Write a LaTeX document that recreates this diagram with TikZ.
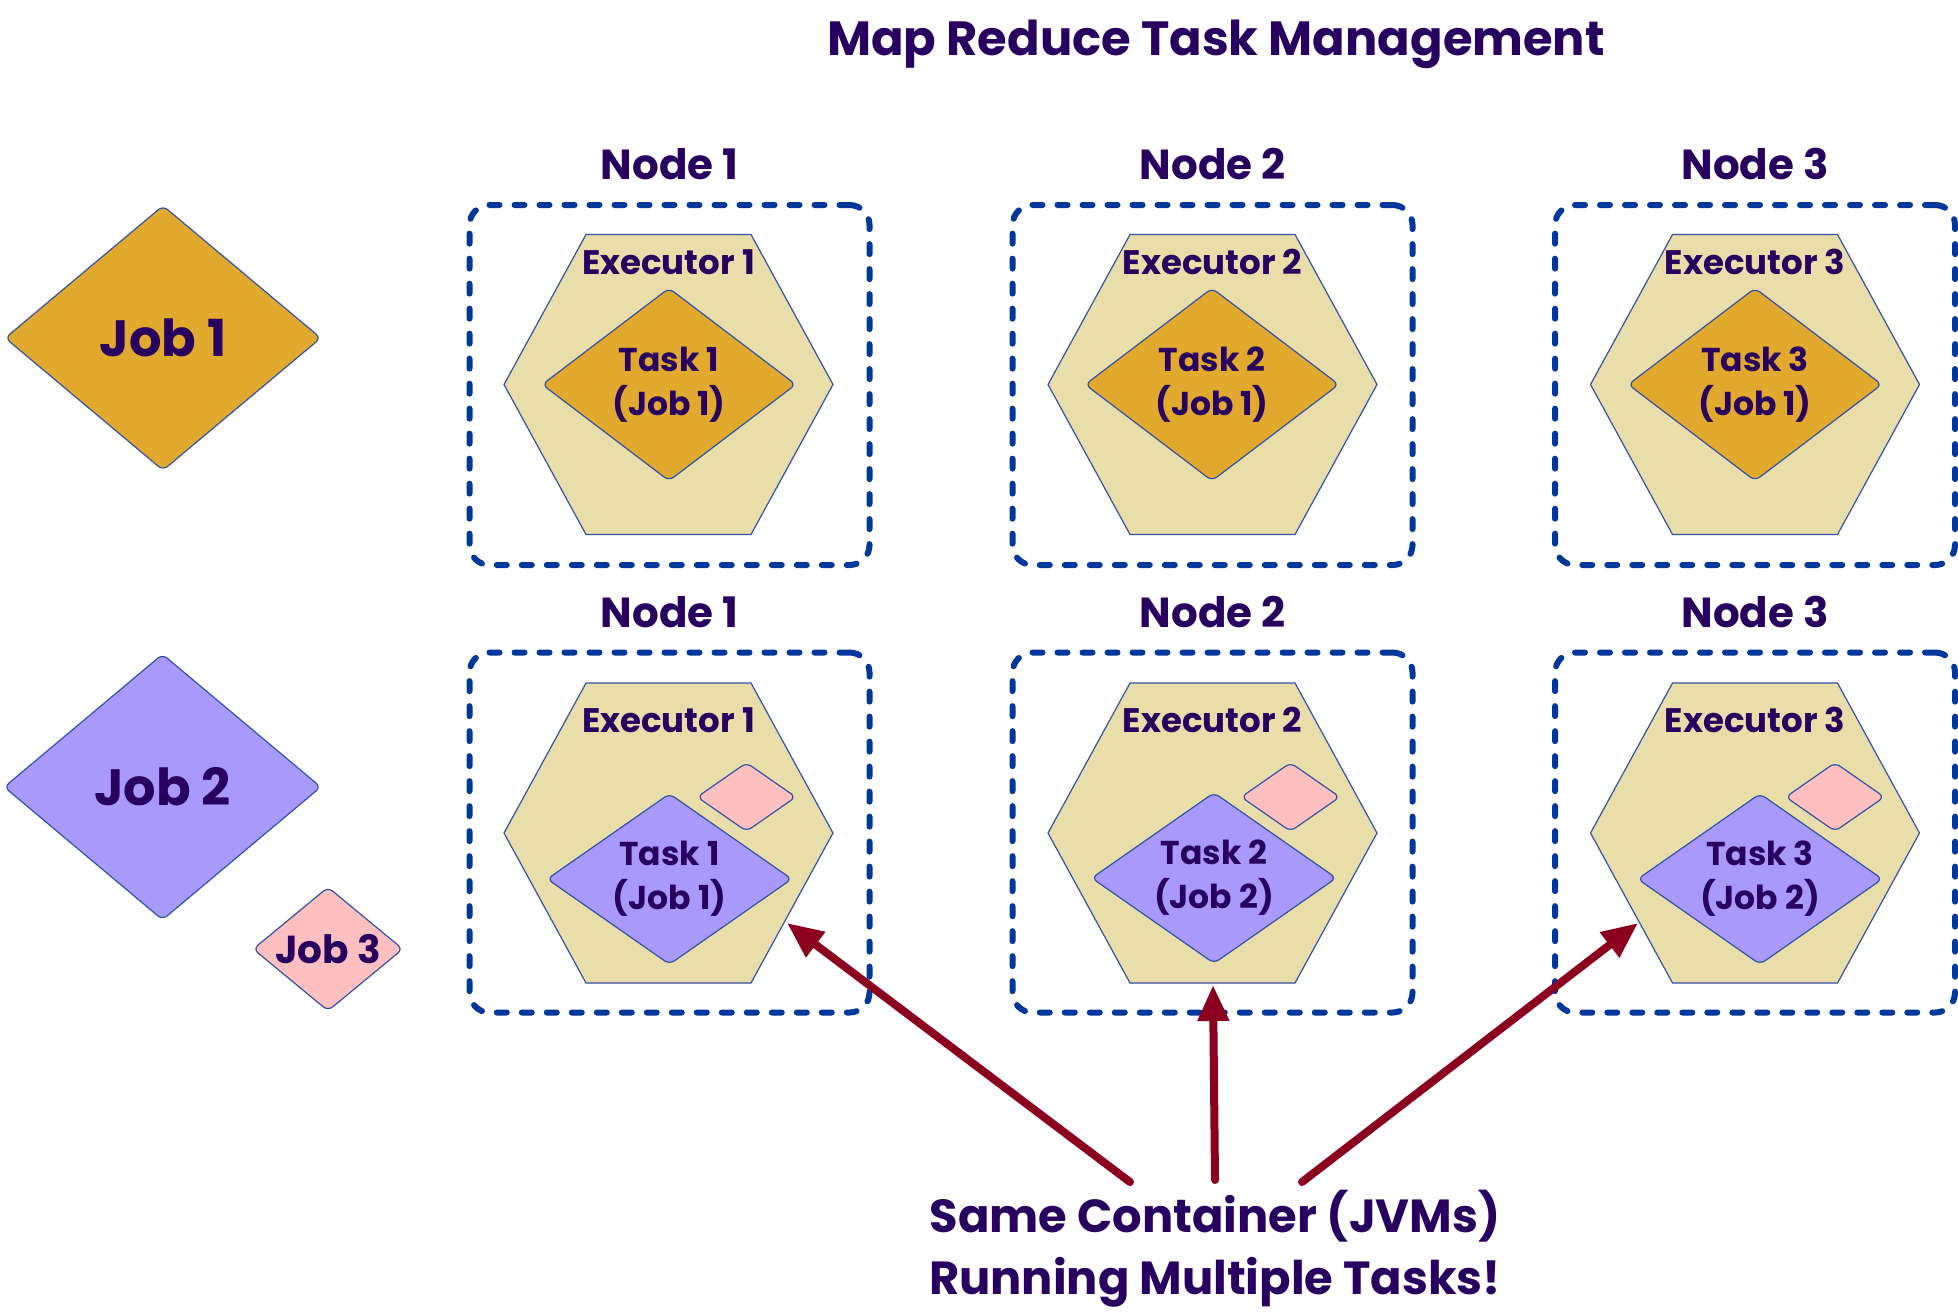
\documentclass[tikz,border=0pt]{standalone}
\usepackage{fontspec}
\setmainfont{Poppins}
\usetikzlibrary{arrows.meta,shapes.geometric}
\definecolor{inkpurple}{HTML}{270060}
\definecolor{boxblue}{HTML}{00379A}
\definecolor{hexfill}{HTML}{E9DDA9}
\definecolor{edgeblue}{HTML}{3352A6}
\definecolor{jobgold}{HTML}{E2A92F}
\definecolor{joblilac}{HTML}{A999FA}
\definecolor{jobpink}{HTML}{FDBFBF}
\definecolor{arrowred}{HTML}{8B001F}
\tikzset{
  labeltext/.style={text=inkpurple, align=center, inner sep=0pt},
  nodebox/.style={draw=boxblue, line width=3pt, dash pattern=on 5pt off 7.5pt, line cap=round, rounded corners=10pt, minimum width=200pt, minimum height=180pt},
  hexagon/.style={draw=edgeblue, fill=hexfill, line width=0.6pt},
  jobdiamond/.style={diamond, draw=edgeblue, line width=0.6pt, rounded corners=3pt, inner sep=-14pt, text=inkpurple, align=center},
  bigfont/.style={font=\fontsize{25.5}{30}\selectfont\bfseries},
  nodefont/.style={font=\fontsize{21}{24}\selectfont\bfseries},
  execfont/.style={font=\fontsize{17}{22}\selectfont\bfseries},
  taskfont/.style={font=\fontsize{16.5}{22}\selectfont\bfseries},
  pointer/.style={-{Triangle[length=18pt,width=15pt]}, line width=4pt, line cap=round, draw=arrowred}
}
% executor hexagon around a named centre
\newcommand{\exechex}[3]{%
  \coordinate (#1) at (#2,#3);
  \draw[hexagon] (#2,#3) ++(-164.5,0) -- ++(82,-150) -- ++(165,0) -- ++(82,150) -- ++(-82,150) -- ++(-165,0) -- cycle;
}
\begin{document}
\begin{tikzpicture}[x=0.5pt, y=-0.5pt]
    \useasboundingbox (0,0) rectangle (1958,1314);
    \node[labeltext, font=\fontsize{24}{30}\selectfont\bfseries] (title) at (1216,44) {Map Reduce Task Management};

    % jobs
    \node[jobdiamond, fill=jobgold, minimum width=158pt, minimum height=132.5pt, bigfont] (job1) at (163,338) {Job 1};
    \node[jobdiamond, fill=joblilac, minimum width=158.5pt, minimum height=133pt, bigfont] (job2) at (162.5,787) {Job 2};
    \node[jobdiamond, fill=jobpink, minimum width=75pt, minimum height=62pt, font=\fontsize{19.5}{24}\selectfont\bfseries] (job3) at (328,949) {Job 3};

    % cluster nodes
    \foreach \col/\x in {1/669.5, 2/1212.5, 3/1755} {
      \node[nodebox] (box1\col) at (\x,385) {};
      \node[nodebox] (box2\col) at (\x,832.5) {};
      \node[labeltext, nodefont] (name1\col) at (\x,164) {Node \col};
      \node[labeltext, nodefont] (name2\col) at (\x,612) {Node \col};
    }

    % executors
    \exechex{hex11}{668.5}{384.5}
    \exechex{hex12}{1212.5}{384.5}
    \exechex{hex13}{1755}{384.5}
    \exechex{hex21}{668.5}{833}
    \exechex{hex22}{1212.5}{833}
    \exechex{hex23}{1755}{833}
    \node[labeltext, execfont] (exec11) at (668.5,262) {Executor 1};
    \node[labeltext, execfont] (exec12) at (1212.5,262) {Executor 2};
    \node[labeltext, execfont] (exec13) at (1755,262) {Executor 3};
    \node[labeltext, execfont] (exec21) at (668.5,720) {Executor 1};
    \node[labeltext, execfont] (exec22) at (1212.5,720) {Executor 2};
    \node[labeltext, execfont] (exec23) at (1755,720) {Executor 3};

    % tasks of job 1
    \node[jobdiamond, fill=jobgold, minimum width=127pt, minimum height=96.5pt, taskfont] (task11) at (669,384.5) {Task 1\\(Job 1)};
    \node[jobdiamond, fill=jobgold, minimum width=127pt, minimum height=96.5pt, taskfont] (task12) at (1212,384.5) {Task 2\\(Job 1)};
    \node[jobdiamond, fill=jobgold, minimum width=127pt, minimum height=96.5pt, taskfont] (task13) at (1755,384.5) {Task 3\\(Job 1)};

    % tasks of job 2 and slots of job 3
    \node[jobdiamond, fill=jobpink, minimum width=49.5pt, minimum height=34.5pt] (slot21) at (746.5,797) {};
    \node[jobdiamond, fill=jobpink, minimum width=49.5pt, minimum height=34.5pt] (slot22) at (1290.5,797) {};
    \node[jobdiamond, fill=jobpink, minimum width=49.5pt, minimum height=34.5pt] (slot23) at (1835,797) {};
    \node[jobdiamond, fill=joblilac, minimum width=122.5pt, minimum height=85.5pt, taskfont] (task21) at (669.5,879) {Task 1\\(Job 1)};
    \node[jobdiamond, fill=joblilac, minimum width=122.5pt, minimum height=85.5pt, taskfont] (task22) at (1214,878) {Task 2\\(Job 2)};
    \node[jobdiamond, fill=joblilac, minimum width=122.5pt, minimum height=85.5pt, taskfont] (task23) at (1760,879) {Task 3\\(Job 2)};

    % note and pointers
    \node[labeltext, font=\fontsize{23.2}{31}\selectfont\bfseries] (note) at (1215,1249) {Same Container (JVMs)\\Running Multiple Tasks!};
    \coordinate (tail1) at (1130,1182);
    \coordinate (tail2) at (1215,1180);
    \coordinate (tail3) at (1302,1182);
    \coordinate (tip1) at (787,923);
    \coordinate (tip2) at (1213,985);
    \coordinate (tip3) at (1638,923);
    \draw[pointer] (tail1) -- (tip1);
    \draw[pointer] (tail2) -- (tip2);
    \draw[pointer] (tail3) -- (tip3);
  \end{tikzpicture}
\end{document}
